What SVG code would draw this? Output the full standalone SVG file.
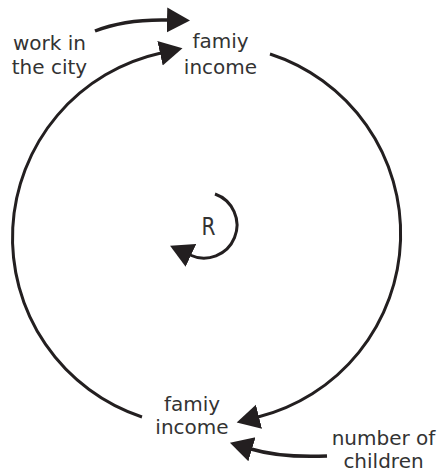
<svg xmlns="http://www.w3.org/2000/svg" width="440" height="473" viewBox="0 0 440 473">
<style>
.lbl{font-family:"DejaVu Sans",sans-serif;font-size:20px;fill:#333;text-anchor:middle}
.ln{fill:none;stroke:#231f20;stroke-width:3}
.sm{fill:none;stroke:#231f20;stroke-width:3.5}
</style>
<defs>
<marker id="ah" markerUnits="userSpaceOnUse" markerWidth="26" markerHeight="28" viewBox="0 -14 26 28" refX="1" refY="0" orient="auto">
<path d="M0,-12.5 L23,0 L0,12.5 z" fill="#231f20"/>
</marker>
</defs>
<rect width="440" height="473" fill="#fff"/>
<g id="connectors">
<path class="ln" d="M270,54 A189,189 0 0,1 258,417" marker-end="url(#ah)"/>
<path class="ln" d="M142,417 A189,189 0 0,1 161,53" marker-end="url(#ah)"/>
<path class="sm" d="M95,31 Q125,19 168,20" marker-end="url(#ah)"/>
<path class="sm" d="M327,456 Q281,458 251,449" marker-end="url(#ah)"/>
<path class="ln" d="M215,194 A33,33 0 1,1 190,255" marker-end="url(#ah)"/>
</g>
<g id="node-income-top"><text class="lbl" x="220.5" y="48">famiy</text><text class="lbl" x="220.5" y="74">income</text></g>
<g id="node-work"><text class="lbl" x="49.5" y="49.5">work in</text><text class="lbl" x="49.5" y="73.5">the city</text></g>
<g id="node-income-bottom"><text class="lbl" x="192" y="411">famiy</text><text class="lbl" x="192" y="434">income</text></g>
<g id="node-children"><text class="lbl" x="383.5" y="445">number of</text><text class="lbl" x="383.5" y="467.5">children</text></g>
<g id="loop-label"><text class="lbl" x="208.5" y="235" style="font-size:25px" textLength="14" lengthAdjust="spacingAndGlyphs">R</text></g>
</svg>
